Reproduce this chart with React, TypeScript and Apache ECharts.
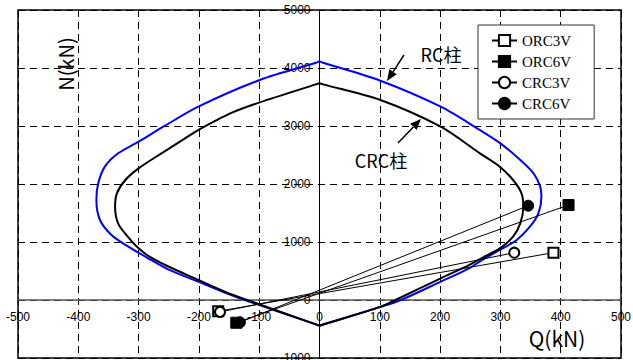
import React, { useEffect, useRef } from "react";
import * as echarts from "echarts";

// Axis ranges / ticks
const qAxis = { min: -500, max: 500, interval: 100 };
const nAxis = { min: -1000, max: 5000, interval: 1000 };

// Interaction curves [Q(kN), N(kN)]
const rcCurve: [number, number][] = [
  [0, -443], [6, -423], [101, -118], [135, 0], [201, 316], [248, 546], [272, 705],
  [299, 862], [327, 1034], [349, 1264], [363, 1494], [368, 1781], [366, 1954],
  [355, 2184], [333, 2414], [300, 2701], [266, 2931], [201, 3333], [101, 3781],
  [6, 4090], [0, 4110], [-6, 4090], [-99, 3793], [-201, 3333], [-259, 2988],
  [-300, 2729], [-334, 2529], [-356, 2299], [-367, 2011], [-370, 1724], [-364, 1379],
  [-345, 1121], [-317, 919], [-287, 736], [-251, 529], [-201, 316], [-154, 115],
  [-124, 0], [-6, -420], [0, -443],
];
const crcCurve: [number, number][] = [
  [0, -443], [6, -423], [101, -118], [126, 0], [201, 374], [248, 603], [272, 740],
  [299, 891], [321, 1091], [333, 1322], [338, 1609], [335, 1840], [321, 2069],
  [299, 2299], [266, 2529], [201, 2988], [101, 3448], [6, 3718], [0, 3736],
  [-6, 3718], [-99, 3408], [-148, 3218], [-201, 2931], [-223, 2788], [-262, 2529],
  [-300, 2270], [-322, 2069], [-336, 1840], [-339, 1609], [-334, 1322], [-318, 1091],
  [-304, 930], [-286, 775], [-254, 595], [-201, 345], [-154, 130], [-120, 0],
  [-6, -420], [0, -443],
];

// Test results [Q, N]
const orc3v: [number, number][] = [[-168, -195], [388, 816]];
const orc6v: [number, number][] = [[-138, -392], [413, 1638]];
const crc3v: [number, number][] = [[-165, -205], [323, 816]];
const crc6v: [number, number][] = [[-132, -385], [346, 1626]];

const legendNames = ["ORC3V", "ORC6V", "CRC3V", "CRC6V"];

const GRID = { left: 18, right: 12, top: 10, bottom: 2 };
const W = 633, H = 360;

function arrow(x1: number, y1: number, x2: number, y2: number) {
  const dx = x2 - x1, dy = y2 - y1;
  const len = Math.hypot(dx, dy);
  const ux = dx / len, uy = dy / len;
  const hl = 11, hw = 4.5;
  const bx = x2 - ux * hl, by = y2 - uy * hl;
  const nx = -uy, ny = ux;
  return [
    { type: "line", shape: { x1, y1, x2: bx, y2: by }, style: { stroke: "#000", lineWidth: 1.5 } },
    {
      type: "polygon",
      shape: { points: [[x2, y2], [bx + nx * hw, by + ny * hw], [bx - nx * hw, by - ny * hw]] },
      style: { fill: "#000" },
    },
  ];
}

export default function App() {
  const ref = useRef<HTMLDivElement>(null);
  useEffect(() => {
    if (!ref.current) return;
    const chart = echarts.init(ref.current, undefined, { renderer: "svg" });
    const gw = W - GRID.left - GRID.right;
    const gh = H - GRID.top - GRID.bottom;
    // distance of the zero lines from the grid's bottom / left edges
    const xOff = (-nAxis.min / (nAxis.max - nAxis.min)) * gh;
    const yOff = (-qAxis.min / (qAxis.max - qAxis.min)) * gw;
    const labelStyle = {
      color: "#000",
      fontSize: 12,
      fontFamily: "Liberation Sans, Arial, sans-serif",
      showMinLabel: true,
      showMaxLabel: true,
      formatter: (v: number) => String(v),
    };
    const split = { show: true, lineStyle: { color: "#000", type: [7, 5], width: 1 } };
    const testSeries = (name: string, data: [number, number][], symbol: string, size: number) => ({
      name,
      type: "line",
      data,
      symbol,
      symbolSize: size,
      showSymbol: true,
      z: 5,
      lineStyle: { color: "#000", width: 1 },
      itemStyle: { color: "#000", borderColor: "#000", borderWidth: 1 },
    });
    chart.setOption({
      animation: false,
      backgroundColor: "#fff",
      grid: {
        ...GRID,
        outerBoundsMode: "none",
        containLabel: false,
        show: true, borderColor: "#000", borderWidth: 1.5,
      },
      xAxis: {
        type: "value", ...qAxis,
        position: "bottom",
        offset: -xOff,
        axisLine: { onZero: false, lineStyle: { color: "#555", width: 1.5 } },
        axisTick: { show: false },
        axisLabel: { ...labelStyle, margin: 11 },
        splitLine: split,
      },
      yAxis: {
        type: "value", ...nAxis,
        position: "left",
        offset: -yOff,
        axisLine: { onZero: false, lineStyle: { color: "#000", width: 1 } },
        axisTick: { show: false },
        axisLabel: { ...labelStyle, margin: 9 },
        splitLine: split,
      },
      legend: {
        data: legendNames,
        orient: "vertical",
        left: 478,
        top: 25,
        padding: [8, 23, 8, 13],
        itemGap: 6,
        itemWidth: 25,
        itemHeight: 14,
        backgroundColor: "#fff",
        borderColor: "#333",
        borderWidth: 1,
        borderRadius: 0,
        textStyle: { fontFamily: "Liberation Serif, serif", fontSize: 15, color: "#000", lineHeight: 14 },
      },
      series: [
        {
          name: "RC", type: "line", data: rcCurve, showSymbol: false, smooth: 0.3,
          lineStyle: { color: "#0000ff", width: 2 }, z: 2,
        },
        {
          name: "CRC", type: "line", data: crcCurve, showSymbol: false, smooth: 0.3,
          lineStyle: { color: "#000", width: 2 }, z: 3,
        },
        testSeries("ORC3V", orc3v, "emptyRect", 10),
        testSeries("ORC6V", orc6v, "rect", 11),
        testSeries("CRC3V", crc3v, "emptyCircle", 10),
        testSeries("CRC6V", crc6v, "circle", 11),
      ],
      graphic: [
        {
          type: "text", x: 65, y: 64, rotation: Math.PI / 2,
          style: { text: "N(kN)", fontSize: 20, fontFamily: "Noto Sans CJK JP, sans-serif", fill: "#000", align: "center", verticalAlign: "middle" },
        },
        {
          type: "text", x: 557, y: 338,
          style: { text: "Q(kN)", fontSize: 21, fontFamily: "Noto Sans CJK JP, sans-serif", fill: "#000", align: "center", verticalAlign: "middle" },
        },
        {
          type: "text", x: 441, y: 54,
          style: { text: "RC柱", fontSize: 18, fontFamily: "Noto Sans CJK JP, sans-serif", fill: "#000", align: "center", verticalAlign: "middle" },
        },
        {
          type: "text", x: 381, y: 160,
          style: { text: "CRC柱", fontSize: 18, fontFamily: "Noto Sans CJK JP, sans-serif", fill: "#000", align: "center", verticalAlign: "middle" },
        },
        ...arrow(404, 55, 387, 81),
        ...arrow(398, 143, 421, 119),
      ],
    });
    return () => chart.dispose();
  }, []);
  return (
    <div
      ref={ref}
      style={{ position: "fixed", left: 0, top: 0, width: W, height: H, background: "#fff" }}
    />
  );
}
